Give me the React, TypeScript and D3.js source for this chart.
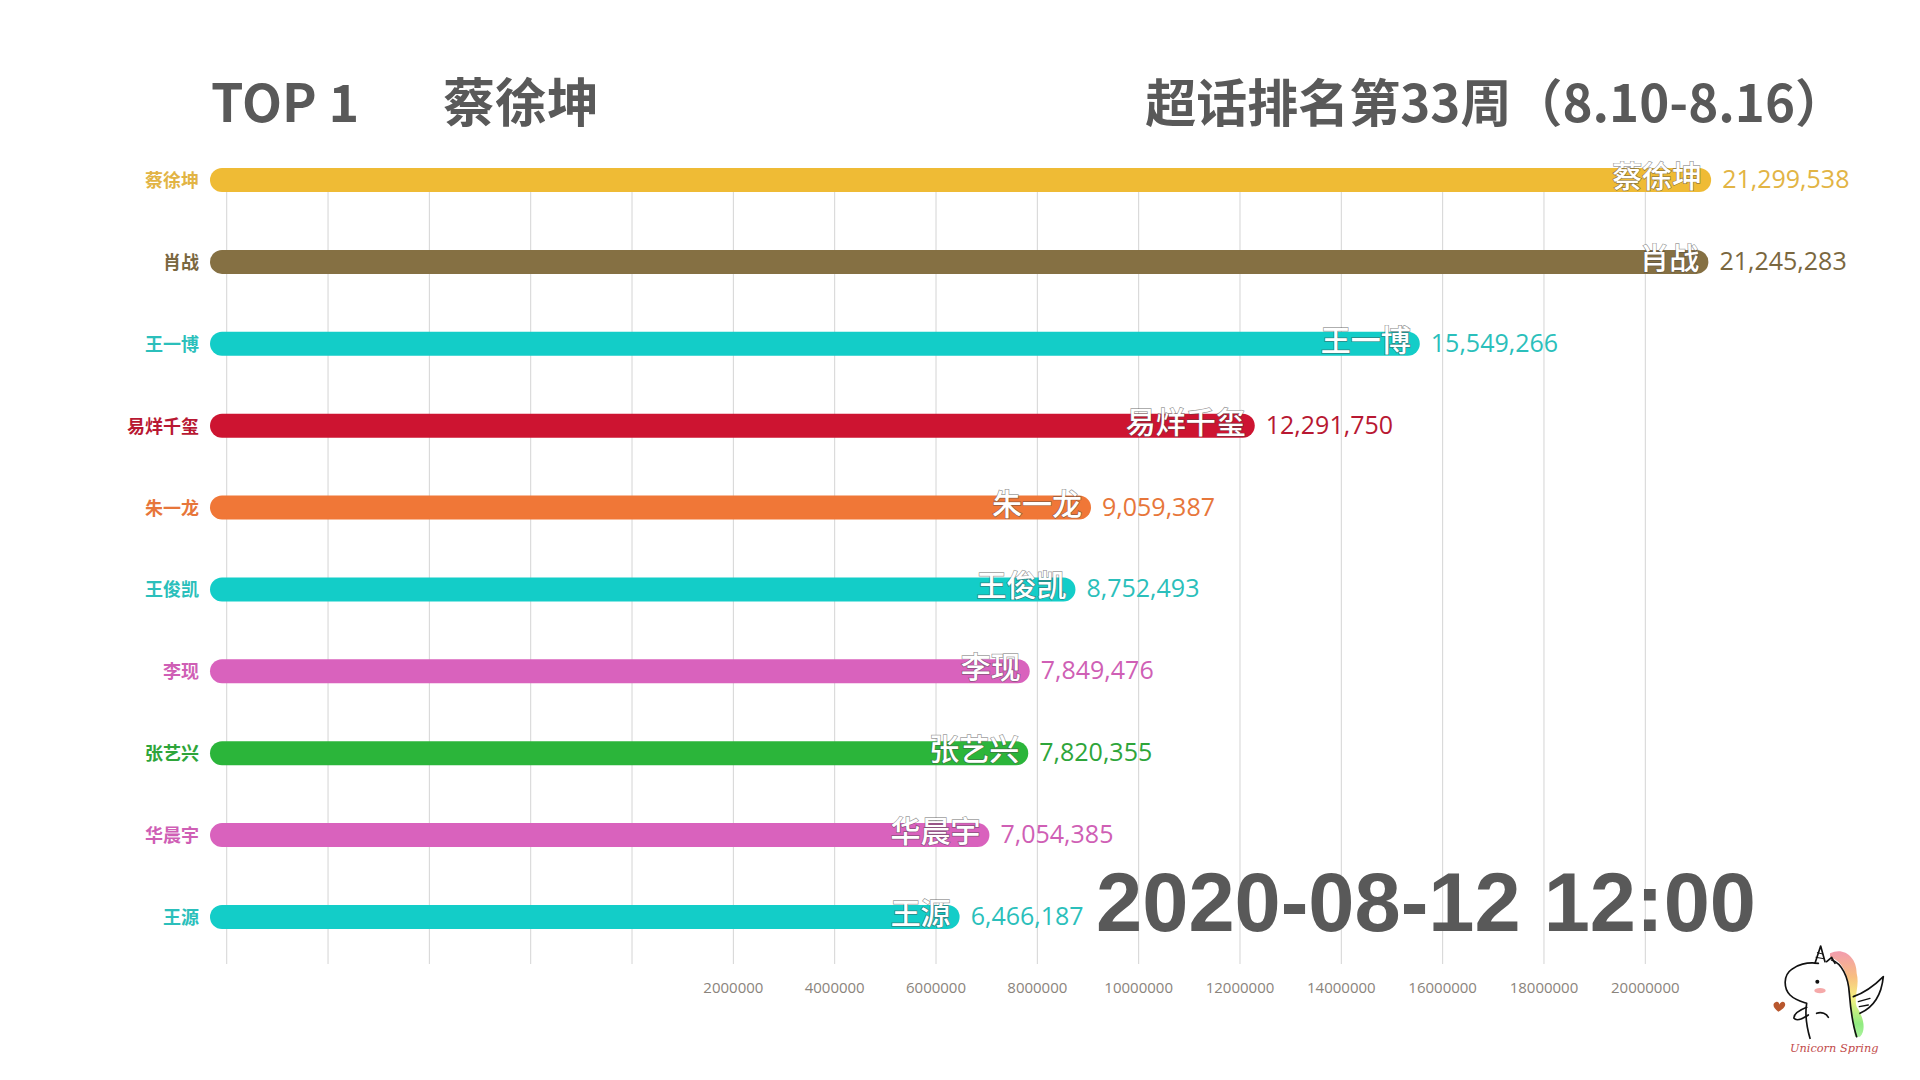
import React from "react";
import * as d3 from "d3";

const names = ["蔡徐坤", "肖战", "王一博", "易烊千玺", "朱一龙", "王俊凯", "李现", "张艺兴", "华晨宇", "王源"];
const values = [21299538, 21245283, 15549266, 12291750, 9059387, 8752493, 7849476, 7820355, 7054385, 6466187];
const colors = ["#EFBB35", "#857043", "#13CDC8", "#CD1431", "#F07737", "#13CDC8", "#D962BD", "#2BB53A", "#D962BD", "#13CDC8"];
const textColors = ["#E2B444", "#7A6740", "#2BBFBB", "#B81832", "#E7763A", "#2BBFBB", "#CF5FB5", "#2EA53A", "#CF5FB5", "#2BBFBB"];
const gridValues = [-8e6, -6e6, -4e6, -2e6, 0, 2e6, 4e6, 6e6, 8e6, 10e6, 12e6, 14e6, 16e6, 18e6, 20e6];
const tickValues = [2e6, 4e6, 6e6, 8e6, 10e6, 12e6, 14e6, 16e6, 18e6, 20e6];
const titleLeft = "TOP 1";
const titleName = "蔡徐坤";
const titleRight = "超话排名第33周（8.10-8.16）";
const dateLabel = "2020-08-12 12:00";

const W = 1920;
const H = 1080;
const CJK = "'Noto Sans CJK SC', 'Noto Sans', sans-serif";
const LATIN = "'Open Sans', 'Noto Sans', sans-serif";

export default function App() {
  const x = d3.scaleLinear().domain([-8.33e6, 20e6]).range([210, 1645.3]);
  const y = d3.scalePoint<string>().domain(names).range([180, 917]);
  const barH = 24;
  const fmt = d3.format(",");
  const xMin = x.domain()[0];

  return (
    <svg width={W} height={H} style={{ position: "absolute", left: 0, top: 0, background: "#fff" }}>
      <defs>
        <linearGradient id="mane" x1="0" y1="0" x2="0" y2="1">
          <stop offset="0" stopColor="#f08aa0" />
          <stop offset="0.3" stopColor="#f7b36a" />
          <stop offset="0.55" stopColor="#f3ef6a" />
          <stop offset="0.85" stopColor="#7de86a" />
          <stop offset="1" stopColor="#9af08a" />
        </linearGradient>
      </defs>
      <rect x={0} y={0} width={W} height={H} fill="#fff" />

      {/* grid */}
      {gridValues.map((v) => (
        <line key={v} x1={x(v)} x2={x(v)} y1={168} y2={964} stroke="#d4d4d4" strokeWidth={1} />
      ))}
      {tickValues.map((v) => (
        <text key={v} x={x(v)} y={993} textAnchor="middle" fontFamily={LATIN} fontWeight={400} fontSize={15} fill="#8a847c">
          {String(v)}
        </text>
      ))}

      {/* titles */}
      <text x={211} y={122} fontFamily={CJK} fontWeight={700} fontSize={52} fill="#595959">{titleLeft}</text>
      <text x={443} y={122} fontFamily={CJK} fontWeight={700} fontSize={52} fill="#595959">{titleName}</text>
      <text x={1846} y={122} textAnchor="end" fontFamily={CJK} fontWeight={700} fontSize={51} fill="#595959">{titleRight}</text>

      {/* bars */}
      {names.map((n, i) => {
        const cy = y(n) as number;
        const x0 = x(xMin);
        const x1 = x(values[i]);
        return (
          <g key={n}>
            <text x={199} y={cy + 7} textAnchor="end" fontFamily={CJK} fontWeight={700} fontSize={18} fill={textColors[i]}>{n}</text>
            <rect x={x0} y={cy - barH / 2} width={x1 - x0} height={barH} rx={barH / 2} fill={colors[i]} />
            <text x={x1 - 9} y={cy + 7} textAnchor="end" fontFamily={CJK} fontWeight={500} fontSize={30} fill="#fff"
              stroke="rgba(70,70,70,0.55)" strokeWidth={1.4} paintOrder="stroke">{n}</text>
            <text x={x1 + 11} y={cy + 8} fontFamily={LATIN} fontWeight={400} fontSize={25} fill={textColors[i]}>{fmt(values[i])}</text>
          </g>
        );
      })}

      {/* date */}
      <text x={1756} y={931} textAnchor="end" fontFamily="'Liberation Sans', Arial, sans-serif" fontWeight={700} fontSize={83} fill="#595959">{dateLabel}</text>

      {/* logo */}
      <g transform="translate(1760,930) scale(0.3333)">
        <path d="M210 70 C250 50 290 80 290 130 C300 170 280 200 290 230 C310 260 320 300 300 320 L285 320 C275 260 270 200 262 150 C255 110 235 90 210 80 Z" fill="url(#mane)" opacity={0.85} />
        <g fill="none" stroke="#111" strokeWidth={5} strokeLinecap="round" strokeLinejoin="round">
          <path d="M175 100 C140 95 110 105 95 118 C70 135 70 175 90 195 C105 210 125 215 140 220 C135 250 140 290 150 325" />
          <path d="M215 90 C245 100 265 140 268 190 C272 240 280 290 290 320" />
          <path d="M165 100 L182 48 L195 95" />
          <path d="M172 68 L188 72 M168 82 L191 86" strokeWidth={3} />
          <path d="M200 95 L215 82 L225 100" />
          <path d="M140 232 C120 240 100 250 102 265 C110 275 130 265 145 255" />
          <path d="M170 250 C185 244 200 252 205 262" />
          <path d="M280 200 C310 190 340 170 370 140 C365 190 345 230 300 250" />
          <path d="M295 215 L330 205 M298 230 L325 225" strokeWidth={4} />
        </g>
        <circle cx={172} cy={155} r={6} fill="#111" />
        <ellipse cx={180} cy={182} rx={17} ry={8} fill="#f4a0a0" opacity={0.9} />
        <path d="M55 245 C40 235 35 220 48 216 C55 214 58 220 58 224 C60 218 68 212 74 218 C80 228 68 238 55 245 Z" fill="#b8572e" />
        <text x={90} y={365} fontFamily="'DejaVu Serif', serif" fontStyle="italic" fontSize={34} fill="#c24a4a">Unicorn Spring</text>
      </g>
    </svg>
  );
}
